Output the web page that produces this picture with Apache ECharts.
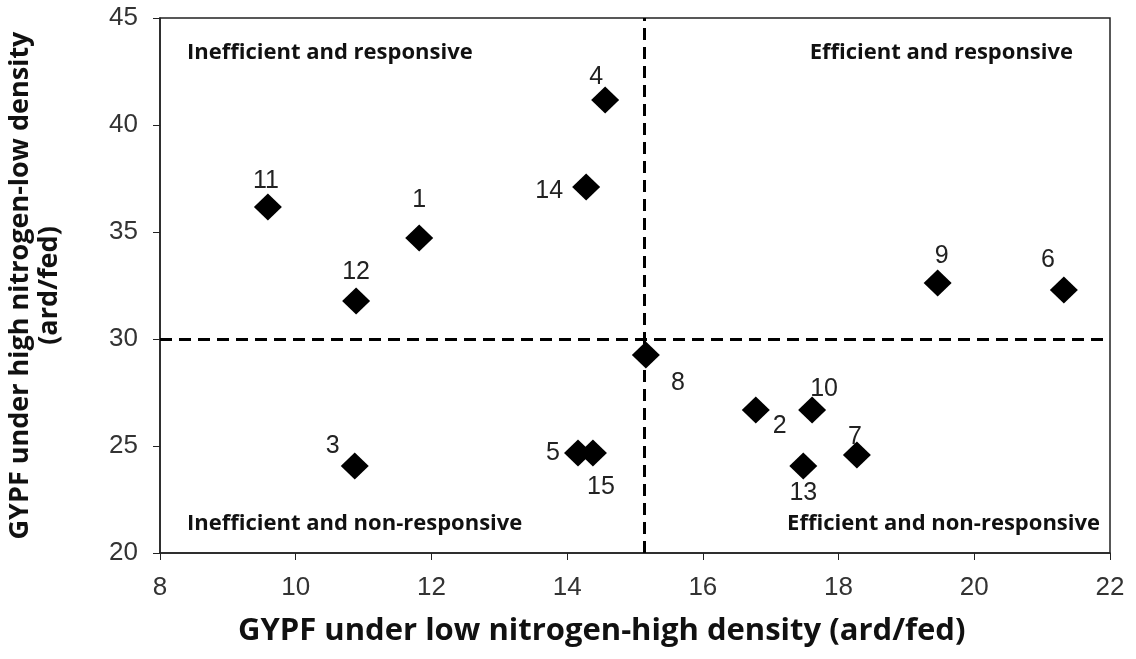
<!DOCTYPE html>
<html>
<head>
<meta charset="utf-8">
<script src="https://cdn.jsdelivr.net/npm/echarts@6/dist/echarts.min.js"></script>
<style>
  html, body { margin: 0; padding: 0; background: #fff; }
  #main { width: 1136px; height: 659px; }
</style>
</head>
<body>
<div id="main"></div>
<script>
// genotype numbers and their GYPF values (ard/fed)
var genotypes = ['1', '2', '3', '4', '5', '6', '7', '8', '9', '10', '11', '12', '13', '14', '15'];
var lowNHighDensity = [11.82, 16.78, 10.87, 14.56, 14.16, 21.32, 18.27, 15.16, 19.46, 17.61, 9.59, 10.89, 17.48, 14.28, 14.38];
var highNLowDensity = [34.72, 26.68, 24.07, 41.17, 24.67, 32.29, 24.58, 29.25, 32.62, 26.68, 36.17, 31.78, 24.07, 37.10, 24.67];
var meanX = 15.13;
var meanY = 30;
var xTicks = [8, 10, 12, 14, 16, 18, 20, 22];
var yTicks = [20, 25, 30, 35, 40, 45];

// where each number sits around its diamond
var labelPlace = {
  '1': [0, -38], '2': [24, 16], '3': [-22, -20], '4': [-9, -23], '5': [-25, 0],
  '6': [-16, -30], '7': [-2, -18], '8': [32, 28], '9': [4, -27], '10': [12, -21],
  '11': [-2, -26], '12': [0, -29], '13': [0, 27], '14': [-37, 4], '15': [8, 34]
};

var chart = echarts.init(document.getElementById('main'));

var pts = genotypes.map(function (g, i) {
  return {
    name: g,
    value: [lowNHighDensity[i], highNLowDensity[i]],
    label: { offset: labelPlace[g] }
  };
});

var quadFont = { fontFamily: 'Open Sans', fontWeight: 'bold', fontSize: 22, fill: '#111', textVerticalAlign: 'middle' };

chart.setOption({
  animation: false,
  grid: { left: 160, right: 26, top: 18, bottom: 106, outerBoundsMode: 'none', containLabel: false, show: true, borderColor: '#222', borderWidth: 1.5, backgroundColor: '#fff' },
  xAxis: {
    type: 'value', min: xTicks[0], max: xTicks[xTicks.length - 1], interval: 2,
    splitLine: { show: false },
    axisLine: { onZero: false, lineStyle: { color: '#222', width: 1.5 } },
    axisTick: { show: true, length: 7, lineStyle: { color: '#222' } },
    axisLabel: { fontFamily: 'Liberation Sans', fontSize: 26, color: '#333', margin: 22 }
  },
  yAxis: {
    type: 'value', min: yTicks[0], max: yTicks[yTicks.length - 1], interval: 5,
    name: 'GYPF under high nitrogen-low density\n(ard/fed)',
    nameLocation: 'middle', nameGap: 96, nameRotate: 90,
    nameTextStyle: { fontFamily: 'Open Sans', fontWeight: 'bold', fontSize: 27, color: '#111', lineHeight: 29 },
    splitLine: { show: false },
    axisLine: { onZero: false, lineStyle: { color: '#222', width: 1.5 } },
    axisTick: { show: true, length: 7, lineStyle: { color: '#222' } },
    axisLabel: { fontFamily: 'Liberation Sans', fontSize: 26, color: '#333', margin: 22 }
  },
  graphic: [
    { type: 'text', left: 187, top: 42, style: Object.assign({ text: 'Inefficient and responsive' }, quadFont) },
    { type: 'text', right: 63, top: 42, style: Object.assign({ text: 'Efficient and responsive' }, quadFont) },
    { type: 'text', left: 187, top: 513, style: Object.assign({ text: 'Inefficient and non-responsive' }, quadFont) },
    { type: 'text', right: 36, top: 513, style: Object.assign({ text: 'Efficient and non-responsive' }, quadFont) },
    { type: 'text', left: 238, top: 616, style: { text: 'GYPF under low nitrogen-high density (ard/fed)', fontFamily: 'Open Sans', fontWeight: 'bold', fontSize: 31, fill: '#111' } }
  ],
  series: [{
    type: 'scatter',
    symbol: 'diamond',
    symbolSize: [28, 27],
    itemStyle: { color: '#000', opacity: 1 },
    label: {
      show: true,
      formatter: '{b}',
      position: 'inside',
      fontFamily: 'Liberation Sans',
      fontSize: 25,
      color: '#222'
    },
    data: pts,
    markLine: {
      silent: true,
      symbol: 'none',
      label: { show: false },
      lineStyle: { color: '#000', width: 3, type: [12, 7] },
      data: [{ xAxis: meanX }, { yAxis: meanY }]
    },
    z: 3
  }]
});
</script>
</body>
</html>
